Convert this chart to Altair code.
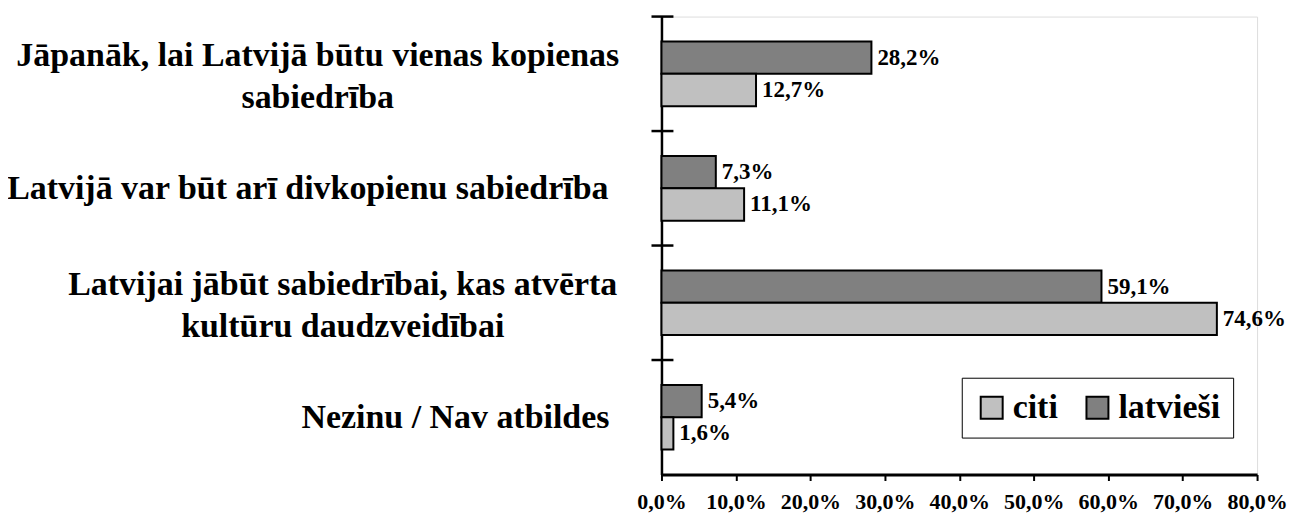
import altair as alt
import pandas as pd

categories = [
    "Jāpanāk, lai Latvijā būtu vienas kopienas\nsabiedrība",
    "Latvijā var būt arī divkopienu sabiedrība",
    "Latvijai jābūt sabiedrībai, kas atvērta\nkultūru daudzveidībai",
    "Nezinu / Nav atbildes",
]
series = ["citi", "latvieši"]
latviesi = [28.2, 7.3, 59.1, 5.4]
citi = [12.7, 11.1, 74.6, 1.6]
x_ticks = [0, 10, 20, 30, 40, 50, 60, 70, 80]

rows = []
for c, v in zip(categories, latviesi):
    rows.append({"cat": c, "series": "latvieši", "value": v})
for c, v in zip(categories, citi):
    rows.append({"cat": c, "series": "citi", "value": v})
df = pd.DataFrame(rows)
df["label"] = df["value"].map(lambda v: f"{v:.1f}".replace(".", ",") + "%")
cat_df = pd.DataFrame({"cat": categories})

FONT = "'Liberation Serif', 'Times New Roman', serif"

y_scale = alt.Scale(domain=categories, paddingInner=0, paddingOuter=0)
yoff = alt.YOffset("series:N", sort=["latvieši", "citi"],
                   scale=alt.Scale(domain=["latvieši", "citi"], paddingInner=0, paddingOuter=0.77))

y_axis = alt.Axis(
    title=None, ticks=False, domain=True, domainColor="black", domainWidth=2.5,
    labelFont=FONT, labelFontSize=34, labelFontWeight="bold", labelColor="black",
    labelAlign="center", labelBaseline="middle", labelLineHeight=42, labelLimit=800,
    labelExpr="split(datum.label, '\\n')",
    labelOffset={"condition": {"test": "test(/\\n/, datum.value)", "value": -18}, "value": 1},
    labelPadding={
        "condition": [
            {"test": "test(/^Nezinu/, datum.value)", "value": 207},
            {"test": "test(/^Latvijai/, datum.value)", "value": 320},
            {"test": "test(/^Latvijā/, datum.value)", "value": 355},
        ],
        "value": 345,
    },
)

x_axis = alt.Axis(
    title=None, values=x_ticks, grid=False, domainColor="black", domainWidth=3,
    tickColor="black", tickWidth=2, tickSize=6, labelOverlap=False, labelFlush=False,
    labelFont=FONT, labelFontSize=22, labelFontWeight="bold", labelColor="black",
    labelPadding=11, labelExpr="replace(format(datum.value, '.1f'), '.', ',') + '%'",
)

base = alt.Chart(df)

bars = base.mark_bar(stroke="black", strokeWidth=2).encode(
    y=alt.Y("cat:N", scale=y_scale, axis=y_axis),
    yOffset=yoff,
    x=alt.X("value:Q", scale=alt.Scale(domain=[0, 80], nice=False), axis=x_axis),
    color=alt.Color(
        "series:N",
        scale=alt.Scale(domain=series, range=["#c0c0c0", "#808080"]),
        legend=alt.Legend(
            title=None, orient="none", legendX=301, legendY=362, direction="horizontal",
            symbolType="square", symbolSize=484, symbolStrokeColor="black", symbolStrokeWidth=2,
            symbolOpacity=1,
            labelFont=FONT, labelFontSize=34, labelFontWeight="bold", labelColor="black",
            strokeColor="black", padding=13, columnPadding=22, labelOffset=4,
        ),
    ),
)

texts = base.mark_text(align="left", baseline="middle", dx=6, font=FONT, fontSize=23,
                       fontWeight="bold", color="black").encode(
    y=alt.Y("cat:N", scale=y_scale),
    yOffset=yoff,
    x=alt.X("value:Q"),
    text="label:N",
)

cross = alt.Chart(cat_df).mark_rule(color="black", strokeWidth=2.5).encode(
    y=alt.Y("cat:N", scale=y_scale, bandPosition=0),
    x=alt.value(-10),
    x2=alt.value(12),
)

chart = alt.layer(bars, texts, cross).properties(
    width=597, height=459,
    autosize=alt.AutoSizeParams(type="none"),
    padding={"left": 655, "top": 8, "right": 30, "bottom": 40},
).configure_view(stroke=None).configure(background="white")

chart.save("out.html", embed_options={"renderer": "svg", "actions": False})
